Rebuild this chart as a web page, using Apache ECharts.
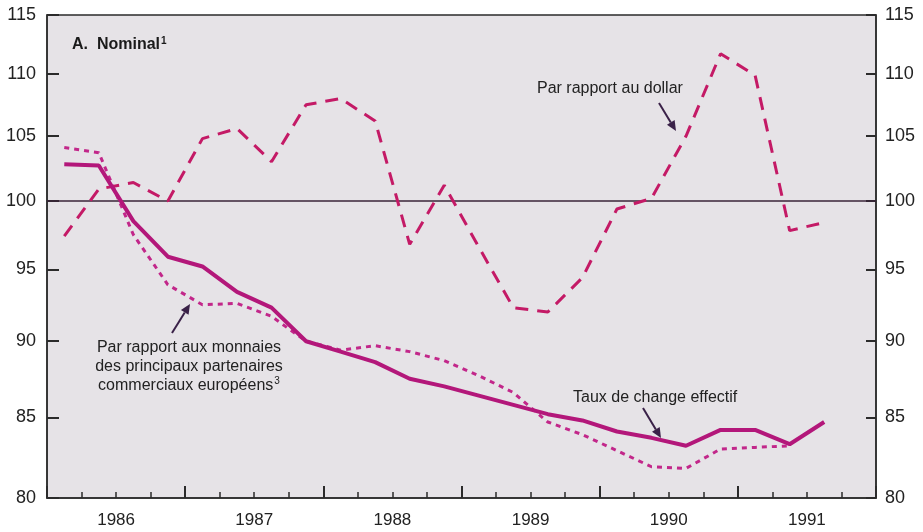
<!DOCTYPE html>
<html>
<head>
<meta charset="utf-8">
<script src="https://cdn.jsdelivr.net/npm/echarts@6/dist/echarts.min.js"></script>
<style>
  * { margin: 0; padding: 0; }
  body { background: #fff; }
  #chart { width: 923px; height: 532px; }
</style>
</head>
<body>
<div id="chart"></div>
<script>
  // trimestres (points au milieu de chaque trimestre)
  var quarters = [
    '1986 T1', '1986 T2', '1986 T3', '1986 T4',
    '1987 T1', '1987 T2', '1987 T3', '1987 T4',
    '1988 T1', '1988 T2', '1988 T3', '1988 T4',
    '1989 T1', '1989 T2', '1989 T3', '1989 T4',
    '1990 T1', '1990 T2', '1990 T3', '1990 T4',
    '1991 T1', '1991 T2', '1991 T3', '1991 T4'
  ]
  var years = ['1986', '1987', '1988', '1989', '1990', '1991']
  var yTicks = [80, 85, 90, 95, 100, 105, 110, 115]

  // Taux de change effectif
  var effectif = [102.8, 102.7, 98.5, 95.9, 95.2, 93.4, 92.3, 90.0, 89.3, 88.6, 87.5, 87.0,
                  86.4, 85.8, 85.2, 84.8, 84.1, 83.7, 83.2, 84.2, 84.2, 83.3, 84.7, null]
  // Par rapport aux monnaies des principaux partenaires europeens
  var europe = [104.1, 103.7, 97.5, 93.9, 92.5, 92.6, 91.7, 90.0, 89.4, 89.7, 89.3, 88.7,
                87.7, 86.6, 84.7, 83.9, 82.9, 81.9, 81.8, 83.0, 83.1, 83.2, null, null]
  // Par rapport au dollar
  var dollar = [97.4, 100.9, 101.4, 100.0, 104.8, 105.6, 103.0, 107.5, 108.0, 106.2, 96.8, 101.2,
                96.6, 92.3, 92.0, 94.4, 99.4, 100.2, 105.0, 111.7, 109.9, 97.8, 98.4, null]

  var ink = '#2b2b2b'
  var arrowInk = '#3a2148'
  var font = 'Liberation Sans, Arial, sans-serif'

  function arrow (x1, y1, x2, y2) {
    var a = Math.atan2(y2 - y1, x2 - x1)
    var L = 10, W = 4.5
    var bx = x2 - L * Math.cos(a), by = y2 - L * Math.sin(a)
    return [
      { type: 'line', z: 50, shape: { x1: x1, y1: y1, x2: bx, y2: by }, style: { stroke: arrowInk, lineWidth: 2 } },
      { type: 'polygon', z: 50, shape: { points: [[x2, y2], [bx + W * Math.sin(a), by - W * Math.cos(a)], [bx - W * Math.sin(a), by + W * Math.cos(a)]] }, style: { fill: arrowInk } }
    ]
  }

  function yAxisCfg (pos) {
    return {
      type: 'log',
      logBase: 10,
      position: pos,
      min: 80,
      max: 115,
      axisLine: { show: true, lineStyle: { color: ink, width: 1.5 } },
      axisTick: { show: true, inside: true, length: pos === 'left' ? 12 : 10, customValues: yTicks, lineStyle: { color: ink, width: 2 } },
      axisLabel: { customValues: yTicks, fontSize: 18, color: '#222', fontFamily: font, margin: pos === 'left' ? 11 : 9 },
      splitLine: { show: false },
      minorTick: { show: false }
    }
  }

  var myChart = echarts.init(document.getElementById('chart'))
  myChart.setOption({
    backgroundColor: '#ffffff',
    animation: false,
    title: {
      left: 67,
      top: 31,
      text: '{b|A.  Nominal}{s|1}',
      textStyle: {
        rich: {
          b: { fontSize: 16, fontWeight: 'bold', color: '#1a1a1a', fontFamily: font },
          s: { fontSize: 10, fontWeight: 'bold', color: '#1a1a1a', fontFamily: font, verticalAlign: 'top', padding: [0, 0, 8, 1] }
        }
      }
    },
    grid: {
      left: 47,
      right: 47,
      top: 15,
      bottom: 34,
      show: true,
      backgroundColor: '#e6e3e7',
      borderColor: ink,
      borderWidth: 1.5
    },
    xAxis: [
      {
        type: 'category',
        data: quarters,
        position: 'bottom',
        boundaryGap: true,
        axisLine: { show: true, lineStyle: { color: ink, width: 1.5 } },
        axisTick: { show: true, inside: true, length: 6, interval: 0, lineStyle: { color: ink, width: 1.5 } },
        axisLabel: { show: false },
        splitLine: { show: false }
      },
      {
        type: 'category',
        data: years,
        position: 'bottom',
        boundaryGap: true,
        axisLine: { show: false },
        axisTick: { show: true, inside: true, length: 12, interval: 0, lineStyle: { color: ink, width: 2 } },
        axisLabel: { fontSize: 17, color: '#222', fontFamily: font, margin: 14, interval: 0 },
        splitLine: { show: false }
      }
    ],
    yAxis: [yAxisCfg('left'), yAxisCfg('right')],
    series: [
      {
        name: 'Par rapport au dollar',
        type: 'line',
        data: dollar,
        symbol: 'none',
        lineStyle: { color: '#c41a66', width: 3, type: [13, 9] },
        z: 4,
        markLine: {
          silent: true,
          symbol: 'none',
          label: { show: false },
          lineStyle: { color: '#3a2438', width: 1.5, type: 'solid' },
          data: [{ yAxis: 100 }],
          z: 2
        }
      },
      {
        name: 'Par rapport aux monnaies des principaux partenaires commerciaux européens',
        type: 'line',
        data: europe,
        symbol: 'none',
        lineStyle: { color: '#c2278a', width: 3, type: [5, 5] },
        z: 3
      },
      {
        name: 'Taux de change effectif',
        type: 'line',
        data: effectif,
        symbol: 'none',
        lineStyle: { color: '#b3177a', width: 4 },
        z: 5
      }
    ],
    graphic: [
      {
        type: 'text', left: 537, top: 81, z: 50,
        style: { text: 'Par rapport au dollar', fontSize: 16, fill: '#222', fontFamily: font }
      },
      {
        type: 'text', x: 189, y: 338, z: 50,
        style: {
          text: 'Par rapport aux monnaies\ndes principaux partenaires\n{n|commerciaux européens}{s|3}',
          fontSize: 16, lineHeight: 19, fill: '#222', fontFamily: font, align: 'center',
          rich: {
            n: { fontSize: 16, fill: '#222', fontFamily: font },
            s: { fontSize: 10, fill: '#222', fontFamily: font, verticalAlign: 'top', padding: [0, 0, 8, 1] }
          }
        }
      },
      {
        type: 'text', left: 573, top: 390, z: 50,
        style: { text: 'Taux de change effectif', fontSize: 16, fill: '#222', fontFamily: font }
      }
    ].concat(arrow(659, 103, 676, 131))
     .concat(arrow(172, 333, 190, 304))
     .concat(arrow(643, 408, 661, 438))
  })
</script>
</body>
</html>
